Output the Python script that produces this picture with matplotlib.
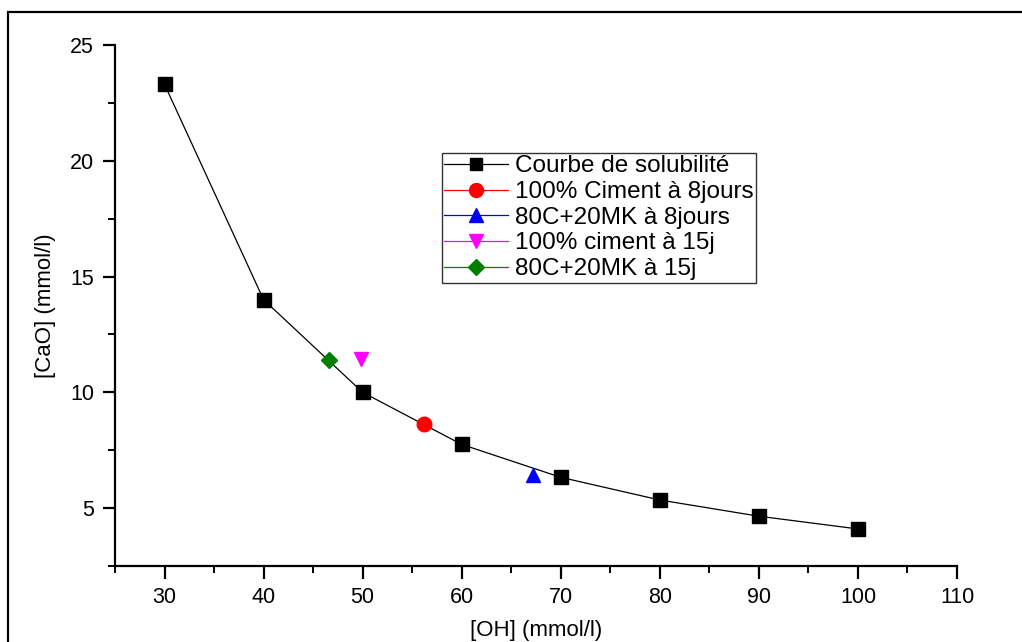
import matplotlib
matplotlib.use("Agg")
import matplotlib.pyplot as plt
from matplotlib.lines import Line2D
from matplotlib.patches import Rectangle
from matplotlib.ticker import MultipleLocator

plt.rcParams["font.family"] = ["Liberation Sans", "DejaVu Sans"]

# solubility curve
oh_curve = [30, 40, 50, 60, 70, 80, 90, 100]
cao_curve = [23.3, 14.0, 10.0, 7.75, 6.33, 5.35, 4.65, 4.1]

# measured points
oh_c100_8j, cao_c100_8j = [56.2], [8.62]
oh_mk_8j, cao_mk_8j = [67.2], [6.45]
oh_c100_15j, cao_c100_15j = [49.8], [11.45]
oh_mk_15j, cao_mk_15j = [46.6], [11.38]

labels = [
    "Courbe de solubilité",
    "100% Ciment à 8jours",
    "80C+20MK à 8jours",
    "100% ciment à 15j",
    "80C+20MK à 15j",
]

fig = plt.figure(figsize=(10.22, 6.42), dpi=100)
fig.patches.append(
    Rectangle((8 / 1022, -0.05), 1.1, 1 - 12 / 642 + 0.05, transform=fig.transFigure,
              fill=False, edgecolor="black", linewidth=1.6)
)
ax = fig.add_axes([115 / 1022, 1 - 566 / 642, (957 - 115) / 1022, (566 - 45) / 642])

styles = [
    ("black", "s", 9),
    ("red", "o", 10),
    ("blue", "^", 10),
    ("magenta", "v", 10),
    ("green", "D", 8),
]

ax.plot(oh_curve, cao_curve, color="black", linewidth=0.9, marker="s", markersize=9.5)
ax.plot(oh_c100_8j, cao_c100_8j, color="red", marker="o", markersize=10.5, linestyle="none")
ax.plot(oh_mk_8j, cao_mk_8j, color="blue", marker="^", markersize=10.5, linestyle="none")
ax.plot(oh_c100_15j, cao_c100_15j, color="magenta", marker="v", markersize=10.5, linestyle="none")
ax.plot(oh_mk_15j, cao_mk_15j, color="green", marker="D", markersize=8.5, linestyle="none")

ax.set_xlim(25, 110)
ax.set_ylim(2.5, 25)
ax.xaxis.set_major_locator(MultipleLocator(10))
ax.xaxis.set_minor_locator(MultipleLocator(5))
ax.yaxis.set_minor_locator(MultipleLocator(2.5))
ax.set_yticks([5, 10, 15, 20, 25])

for side in ("top", "right"):
    ax.spines[side].set_visible(False)
for side in ("left", "bottom"):
    ax.spines[side].set_linewidth(1.6)
ax.tick_params(which="major", direction="out", length=9, width=1.6, labelsize=15.5, pad=6)
ax.tick_params(which="minor", direction="out", length=5, width=1.4)
ax.patch.set_alpha(0)

ax.set_xlabel("[OH] (mmol/l)", fontsize=16, labelpad=9)
ax.set_ylabel("[CaO] (mmol/l)", fontsize=16, labelpad=10)

leg_handles = [
    Line2D([], [], color=c, linewidth=0.9, marker=m, markersize=s) for c, m, s in styles
]
leg = fig.legend(leg_handles, labels, loc="upper left", bbox_to_anchor=(442 / 1022, 1 - 153 / 642),
                 fontsize=17.5, frameon=True, fancybox=False, edgecolor="black",
                 handlelength=2.6, handletextpad=0.3, labelspacing=0.15, borderpad=0.1,
                 borderaxespad=0)
leg.get_frame().set_linewidth(1.0)

fig.savefig("out.png", dpi=100)
